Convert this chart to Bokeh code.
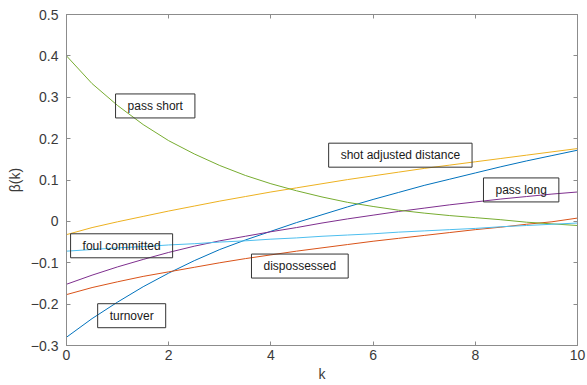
from bokeh.plotting import figure
from bokeh.models import LinearAxis, Label, Range1d, FixedTicker
from bokeh.embed import file_html
from bokeh.resources import INLINE

k = [0, 0.5, 1, 1.5, 2, 2.5, 3, 3.5, 4, 4.5, 5, 5.5, 6, 6.5, 7, 7.5, 8, 8.5, 9, 9.5, 10]

turnover = [-0.280, -0.235, -0.195, -0.158, -0.125, -0.095, -0.068, -0.045, -0.024, -0.003,
            0.016, 0.035, 0.053, 0.070, 0.087, 0.102, 0.117, 0.132, 0.146, 0.159, 0.172]
dispossessed = [-0.177, -0.160, -0.146, -0.133, -0.122, -0.111, -0.100, -0.090, -0.081, -0.072,
                -0.064, -0.056, -0.048, -0.041, -0.034, -0.027, -0.020, -0.014, -0.007, -0.001, 0.008]
shot_adjusted_distance = [-0.032, -0.015, -0.001, 0.012, 0.025, 0.037, 0.049, 0.060, 0.071, 0.081,
                          0.091, 0.101, 0.110, 0.119, 0.128, 0.136, 0.144, 0.152, 0.160, 0.168, 0.176]
pass_long = [-0.152, -0.130, -0.110, -0.092, -0.075, -0.060, -0.047, -0.036, -0.025, -0.015,
             -0.004, 0.006, 0.015, 0.024, 0.032, 0.040, 0.047, 0.054, 0.060, 0.066, 0.071]
pass_short = [0.400, 0.333, 0.280, 0.234, 0.195, 0.163, 0.135, 0.111, 0.091, 0.074,
              0.059, 0.046, 0.036, 0.027, 0.020, 0.014, 0.009, 0.004, -0.002, -0.006, -0.010]
foul_committed = [-0.072, -0.068, -0.064, -0.061, -0.057, -0.054, -0.050, -0.047, -0.043, -0.040,
                  -0.036, -0.033, -0.030, -0.026, -0.023, -0.020, -0.017, -0.013, -0.010, -0.007, -0.004]

series = [
    (turnover, "#0072BD"),
    (dispossessed, "#D95319"),
    (shot_adjusted_distance, "#EDB120"),
    (pass_long, "#7E2F8E"),
    (pass_short, "#77AC30"),
    (foul_committed, "#4DBEEE"),
]

label_texts = ["pass short", "shot adjusted distance", "pass long", "dispossessed",
               "foul committed", "turnover"]
label_x = [0.96, 5.13, 8.16, 3.62, 0.08, 0.61]
label_y = [0.279, 0.160, 0.076, -0.108, -0.059, -0.228]

x_ticks = [0, 2, 4, 6, 8, 10]
y_ticks = [-0.3, -0.2, -0.1, 0, 0.1, 0.2, 0.3, 0.4, 0.5]

FONT = "Liberation Sans"
AXIS_GRAY = "#8c8c8c"
TEXT_GRAY = "#3a3a3a"

p = figure(frame_width=511, frame_height=331, output_backend="svg", toolbar_location=None,
           x_range=Range1d(0, 10), y_range=Range1d(-0.3, 0.5),
           x_axis_label="k", y_axis_label="β(k)")
p.min_border_left = 66
p.min_border_right = 10
p.min_border_top = 14
p.min_border_bottom = 40
p.xgrid.visible = False
p.ygrid.visible = False
p.outline_line_color = AXIS_GRAY
p.background_fill_color = "white"
p.border_fill_color = "white"

for ys, c in series:
    p.line(k, ys, line_color=c, line_width=1)

p.xaxis.ticker = FixedTicker(ticks=x_ticks)
p.yaxis.ticker = FixedTicker(ticks=y_ticks)

for ax in [p.xaxis[0], p.yaxis[0]]:
    ax.axis_line_color = AXIS_GRAY
    ax.major_tick_line_color = AXIS_GRAY
    ax.major_tick_in = 4
    ax.major_tick_out = 0
    ax.minor_tick_line_color = None
    ax.major_label_text_font = FONT
    ax.major_label_text_font_size = "14px"
    ax.major_label_text_color = TEXT_GRAY
    ax.axis_label_text_font = FONT
    ax.axis_label_text_font_size = "14px"
    ax.axis_label_text_font_style = "normal"
    ax.axis_label_text_color = TEXT_GRAY
p.xaxis.major_label_standoff = 4
p.xaxis.axis_label_standoff = 3
p.yaxis.major_label_standoff = 8
p.yaxis.axis_label_standoff = 5

for loc, ticks in [("right", y_ticks), ("above", x_ticks)]:
    ax = LinearAxis(ticker=FixedTicker(ticks=ticks))
    ax.axis_line_color = AXIS_GRAY
    ax.major_tick_line_color = AXIS_GRAY
    ax.major_tick_in = 4
    ax.major_tick_out = 0
    ax.minor_tick_line_color = None
    ax.major_label_text_font_size = "0px"
    ax.major_label_text_color = None
    ax.major_label_standoff = 0
    p.add_layout(ax, loc)

for t, x, y in zip(label_texts, label_x, label_y):
    p.add_layout(Label(x=x, y=y, text=t, anchor="center_left",
                       text_font=FONT, text_font_size="12px", text_color="#1a1a1a",
                       border_line_color="#333333", border_line_width=1,
                       background_fill_color=None, padding=(12, 5)))

open("out.html", "w").write(file_html(p, INLINE))
